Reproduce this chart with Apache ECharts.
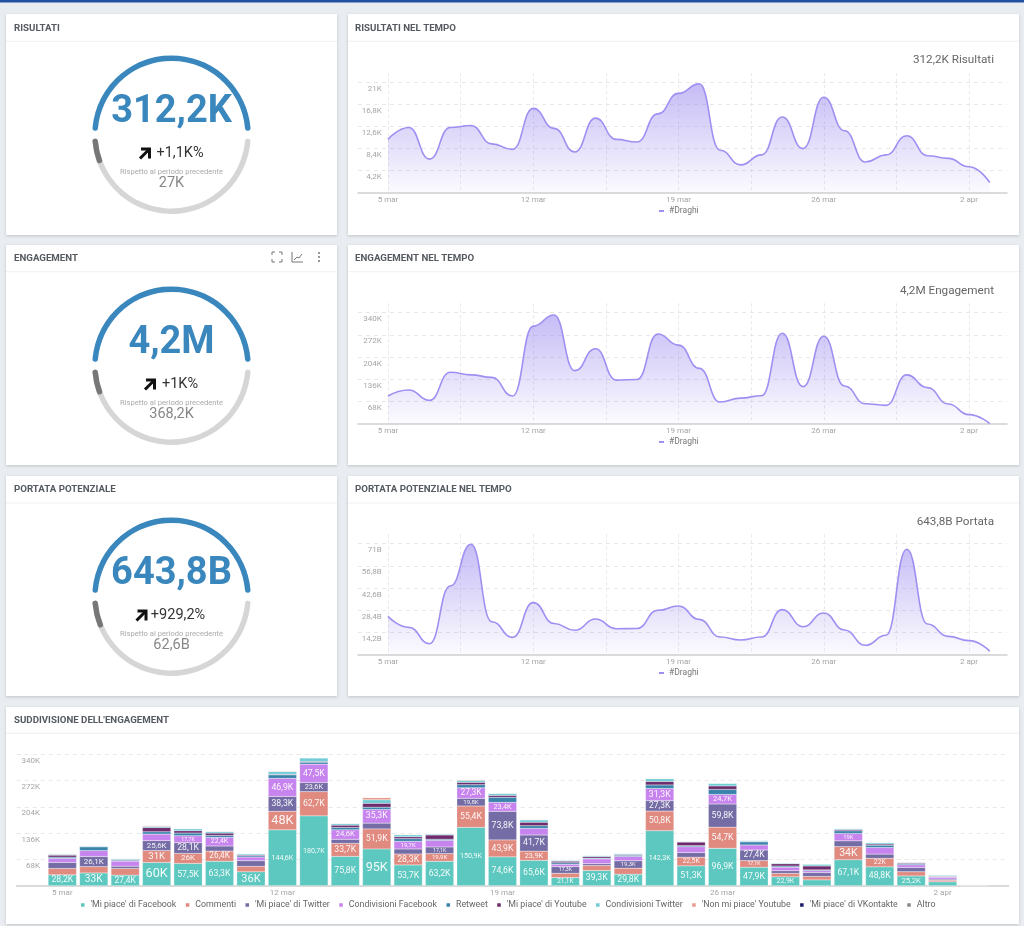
<!DOCTYPE html>
<html>
<head>
<meta charset="utf-8">
<title>Draghi dashboard</title>
<script src="https://cdn.jsdelivr.net/npm/echarts@6/dist/echarts.min.js"></script>
<style>
  html, body { margin: 0; padding: 0; background: #e9edf1; }
  #echart-box { width: 1024px; height: 926px; }
</style>
</head>
<body>
<div id="echart-box"></div>
<script>
// days on the x axis, 5 mar .. 3 apr
var days = ['5 mar','6 mar','7 mar','8 mar','9 mar','10 mar','11 mar','12 mar','13 mar','14 mar','15 mar','16 mar','17 mar','18 mar','19 mar','20 mar','21 mar','22 mar','23 mar','24 mar','25 mar','26 mar','27 mar','28 mar','29 mar','30 mar','31 mar','1 apr','2 apr','3 apr'];
var labelDays = [0, 7, 14, 21, 28];
var gridDays = [0, 3.5, 7, 10.5, 14, 17.5, 21, 24.5, 28];

// line charts
var risultati = [10.15,12.4,6.4,12.4,12.8,9.3,8.25,16.05,12.25,7.75,14.2,10.15,9.65,15,18.9,20.7,8.1,5.3,7.2,14.4,8.4,18.15,11.8,5.85,7.2,10.85,7.05,6.55,4.95,1.95];
var engagement = [85.5,104,72,158,150,142.5,85.5,299,333,163,230,134,136,275,241,170,67,79,86.5,277,114,268,116,62,57,150,111,61,28.5,1];
var portata = [24.5,17.5,7,43.9,70.6,21.1,11.1,33.3,20,15.6,22.8,16.6,16.8,28.4,31.1,22.6,11.3,9.4,11.3,28.8,17.9,26.7,15.8,6,12.4,67.4,19.6,11.7,9,2.3];

var risultatiTicks = [4.2, 8.4, 12.6, 16.8, 21];
var engagementTicks = [68, 136, 204, 272, 340];
var portataTicks = [14.2, 28.4, 42.6, 56.8, 71];

// stacked bars, values in K
var fbLikes = [28.2,33,27.4,60,57.5,63.3,36,144.6,180.7,75.8,95,53.7,63.2,150.9,74.6,65.6,21.1,39.3,29.8,142.3,51.3,96.9,47.9,22.9,15,67.1,48.8,25.2,10,0.6];
var commenti = [16.4,16.4,17,31,26,26.4,14,48,62.7,33.7,51.9,28.3,19.9,55.4,43.9,23.9,11,13,15.5,50.8,22.5,54.7,17.1,9,9,34,22,11,4,0.4];
var twLikes = [15.5,26.1,6,25.6,28.1,13,14.7,38.3,23.6,10.5,15,13,17.1,19.8,73.8,41.7,17.3,5,19.3,27.3,12,59.8,27.4,7,10,15,11,11,3,1.4];
var fbShares = [10.4,15.5,13,17,17.7,22.4,9.5,46.9,47.5,24.6,35.3,19.7,17,27.3,23.4,17,6,12,11,31.3,15,24.7,13,9,5,19,17,7,5,0.1];
var retweet = [3.5,9.5,2.5,6,7,5,3.5,9,5,6,6,7,3,8,13,7,4,2,3,9,3,13,8,3,2,7,6,3,1,0];
var ytLikes = [5,1,1.5,11,6,6,2,1.5,2,6,10,5,11,6,5,9,4,4,2,9,9,9,1,6,10,3,3,2,1.5,0];
var twShares = [2.5,1.5,2.5,3,5,4,3.5,7,9,4,9,5,2.5,5,5,6,2.5,3,3,7,2,7,3,2,5,3,4,2,3,0.1];
var ytDislikes = [1,0.4,0.5,2,0.7,1,0.3,1.5,0.5,1,6,1,1,2,1,1,0.5,0.3,0.3,1,0.3,0.5,0.3,0.3,0.3,0.3,0.3,0.3,0.3,0];
var vkLikes = [0.2,0.1,0.1,0.2,0.1,0.1,0.1,0.2,0.5,0.1,0.2,0.1,0.1,0.2,0.1,0.1,0.1,0.1,0.1,0.2,0.1,0.2,0.1,0.1,0.1,0.1,0.1,0.1,0.1,0];
var altro = [0.1,0.1,0.1,0.2,0.1,0.1,0.1,0.2,0.5,0.1,0.2,0.1,0.1,0.2,0.1,0.1,0.1,0.1,0.1,0.2,0.1,0.2,0.1,0.1,0.1,0.1,0.1,0.1,0.1,0];
var stackNames = ["'Mi piace' di Facebook", 'Commenti', "'Mi piace' di Twitter", 'Condivisioni Facebook', 'Retweet', "'Mi piace' di Youtube", 'Condivisioni Twitter', "'Non mi piace' Youtube", "'Mi piace' di VKontakte", 'Altro'];
var stackValues = [fbLikes, commenti, twLikes, fbShares, retweet, ytLikes, twShares, ytDislikes, vkLikes, altro];
var stackColors = ['#5cc8bf', '#e08a80', '#746ca5', '#c884ee', '#3a83ab', '#6e2c6d', '#6fcbd6', '#e69d8e', '#1c1c6e', '#888888'];
var stackTicks = [68, 136, 204, 272, 340];

// gauge panels: current, previous
var gaugeCurrent = [312.2, 4200, 643.8];
var gaugePrevious = [27, 368.2, 62.6];

var FONT = 'Roboto, sans-serif';
var BLUE = '#3a87bd';

function comma(v) {
  return String(Math.round(v * 10) / 10).replace('.', ',');
}

function card(x, y, w, h, headerY, title) {
  return [
    { type: 'rect', z: -10, shape: { x: x, y: y, width: w, height: h }, style: { fill: '#fff', shadowBlur: 3, shadowColor: 'rgba(0,0,0,0.18)', shadowOffsetY: 1 } },
    { type: 'line', z: -9, shape: { x1: x, y1: headerY, x2: x + w, y2: headerY }, style: { stroke: '#eef0f2', lineWidth: 1 } },
    { type: 'text', x: x + (x > 100 ? 7 : 8), y: headerY - 13, style: { text: title, font: '700 9.7px ' + FONT, fill: '#555a60', textVerticalAlign: 'middle' } }
  ];
}

function text(x, y, str, font, color, align) {
  return { type: 'text', x: x, y: y, style: { text: str, font: font + ' ' + FONT, fill: color, textAlign: align || 'center', textVerticalAlign: 'middle' } };
}

function arrow(x, y) {
  return [
    { type: 'polyline', shape: { points: [[x - 5, y + 5], [x + 4, y - 4]] }, style: { stroke: '#111', fill: 'none', lineWidth: 3 } },
    { type: 'polyline', shape: { points: [[x - 4, y - 4.5], [x + 4.5, y - 4.5], [x + 4.5, y + 5]] }, style: { stroke: '#111', fill: 'none', lineWidth: 3 } }
  ];
}

function gaugeTexts(dy, main, delta, deltaX, arrowX, prev) {
  return [
    text(171.5, 112.5 + dy, main, '700 38px', BLUE),
    text(deltaX, 153 + dy, delta, '400 14.5px', '#333'),
    text(171.5, 172 + dy, 'Rispetto al periodo precedente', '400 7.6px', '#aaaaaa'),
    text(171.5, 183.5 + dy, prev, '400 14.5px', '#888888')
  ].concat(arrow(arrowX, 153.5 + dy));
}

function gaugeSeries(dy, share) {
  var hidden = { show: false };
  var base = {
    type: 'gauge',
    center: [171.5, 134.7 + dy],
    radius: 79.3,
    min: 0,
    max: 1,
    silent: true,
    splitLine: hidden,
    axisTick: hidden,
    axisLabel: hidden,
    pointer: hidden,
    anchor: hidden,
    title: hidden,
    detail: hidden
  };
  return [
    Object.assign({}, base, {
      startAngle: 175,
      endAngle: 5,
      axisLine: { roundCap: true, lineStyle: { width: 5.5, color: [[1, BLUE]] } },
      data: [{ value: 1 }]
    }),
    Object.assign({}, base, {
      startAngle: 185,
      endAngle: 355,
      clockwise: false,
      axisLine: { roundCap: true, lineStyle: { width: 5.5, color: [[1, '#d6d6d6']] } },
      progress: { show: true, roundCap: true, width: 5.5, itemStyle: { color: '#777777' } },
      data: [{ value: share }]
    })
  ];
}

var DAY = 20.75;
var lineBoxes = [
  { top: 73, bottom: 192.8, max: 22.77, values: risultati, ticks: risultatiTicks, unit: 'K', legendY: 201.5 },
  { top: 303.3, bottom: 424, max: 368.6, values: engagement, ticks: engagementTicks, unit: 'K', legendY: 432.5 },
  { top: 534.3, bottom: 654.7, max: 77, values: portata, ticks: portataTicks, unit: 'B', legendY: 663.5 }
];

function pairs(values) {
  return values.map(function (v, i) { return [i, v]; });
}

function dayAxis(gridIndex, minDay, maxDay) {
  return {
    type: 'value',
    gridIndex: gridIndex,
    min: minDay,
    max: maxDay,
    axisLine: { onZero: false, lineStyle: { color: '#cfcfcf', width: 1.5 } },
    axisTick: { show: false, customValues: gridDays },
    axisLabel: {
      customValues: labelDays,
      color: '#a5a5a5',
      fontFamily: FONT,
      fontSize: 8,
      margin: 3,
      formatter: function (v) { return days[v]; }
    },
    splitLine: { show: true, lineStyle: { color: '#e8e8e8', type: [3, 3] } }
  };
}

function valueAxis(gridIndex, max, ticks, unit, margin) {
  return {
    type: 'value',
    gridIndex: gridIndex,
    min: 0,
    max: max,
    axisLine: { show: false },
    axisTick: { show: false, customValues: ticks },
    axisLabel: {
      customValues: ticks,
      color: '#a5a5a5',
      fontFamily: FONT,
      fontSize: 8,
      margin: margin,
      align: 'right',
      verticalAlign: 'top',
      padding: [2.5, 0, 0, 0],
      formatter: function (v) { return comma(v) + unit; }
    },
    splitLine: { show: true, lineStyle: { color: '#e8e8e8', type: [4, 4] } }
  };
}

function labelSize(str, v) {
  var em = 0;
  for (var i = 0; i < str.length; i++) {
    em += str[i] === ',' ? 0.22 : (str[i] === 'K' ? 0.62 : 0.56);
  }
  return Math.min(22 / em, v * 0.386 * 0.8);
}

function stackData(values) {
  return values.map(function (v) {
    var str = comma(v) + 'K';
    if (v < 17.05) {
      return { value: v, label: { show: false } };
    }
    return { value: v, label: { show: true, formatter: str, fontSize: labelSize(str, v) } };
  });
}

function init() {
  const element = document.getElementById('echart-box');
  const instance = echarts.init(element);

  var graphics = [
    { type: 'rect', z: -9, shape: { x: 0, y: 0, width: 1024, height: 2.5 }, style: { fill: '#2350a0' } }
  ];
  graphics = graphics.concat(
    card(6, 14, 331, 221, 41.3, 'RISULTATI'),
    card(348, 14, 671, 221, 41.3, 'RISULTATI NEL TEMPO'),
    card(6, 245, 331, 220, 271.7, 'ENGAGEMENT'),
    card(348, 245, 671, 220, 271.7, 'ENGAGEMENT NEL TEMPO'),
    card(6, 476, 331, 220, 503, 'PORTATA POTENZIALE'),
    card(348, 476, 671, 220, 503, 'PORTATA POTENZIALE NEL TEMPO'),
    card(6, 707, 1013, 217, 733.3, "SUDDIVISIONE DELL'ENGAGEMENT"),
    gaugeTexts(0, '312,2K', '+1,1K%', 180, 145, '27K'),
    gaugeTexts(231, '4,2M', '+1K%', 180, 150, '368,2K'),
    gaugeTexts(462, '643,8B', '+929,2%', 178, 141.5, '62,6B'),
    [
      text(994, 60.5, '312,2K Risultati', '400 11.7px', '#666', 'right'),
      text(994, 290.7, '4,2M Engagement', '400 11.7px', '#666', 'right'),
      text(994, 522.3, '643,8B Portata', '400 11.7px', '#666', 'right')
    ]
  );

  // toolbar icons on the engagement card
  var iconStyle = { stroke: '#777', fill: 'none', lineWidth: 1 };
  [[272, 252, 1, 1], [282, 252, -1, 1], [272, 262, 1, -1], [282, 262, -1, -1]].forEach(function (c) {
    graphics.push({ type: 'polyline', shape: { points: [[c[0] + 3 * c[2], c[1]], [c[0], c[1]], [c[0], c[1] + 3 * c[3]]] }, style: iconStyle });
  });
  graphics.push({ type: 'polyline', shape: { points: [[292, 252], [292, 262], [303, 262]] }, style: iconStyle });
  graphics.push({ type: 'polyline', shape: { points: [[294, 260], [297, 257], [299, 258], [302, 254]] }, style: iconStyle });
  [253, 257, 261].forEach(function (y) {
    graphics.push({ type: 'circle', shape: { cx: 319, cy: y, r: 1 }, style: { fill: '#777' } });
  });

  var grids = [];
  var xAxes = [];
  var yAxes = [];
  var legends = [];
  var series = [];

  lineBoxes.forEach(function (b, idx) {
    grids.push({ left: 358, width: 649, top: b.top, height: b.bottom - b.top });
    xAxes.push(dayAxis(idx, -30 / DAY, 619 / DAY));
    yAxes.push(valueAxis(idx, b.max, b.ticks, b.unit, -23.8));
    legends.push({
      data: ['#Draghi'],
      left: 654,
      top: b.legendY,
      icon: 'rect',
      itemWidth: 5,
      itemHeight: 2,
      selectedMode: false,
      textStyle: { color: '#777', fontFamily: FONT, fontSize: 8.5 }
    });
    series.push({
      name: '#Draghi',
      type: 'line',
      xAxisIndex: idx,
      yAxisIndex: idx,
      smooth: 0.5,
      smoothMonotone: 'x',
      symbol: 'none',
      silent: true,
      lineStyle: { color: '#a08ff2', width: 1.6 },
      itemStyle: { color: '#a08ff2' },
      areaStyle: {
        color: new echarts.graphic.LinearGradient(0, 0, 0, 1, [
          { offset: 0, color: 'rgba(142,122,236,0.72)' },
          { offset: 1, color: 'rgba(142,122,236,0.04)' }
        ])
      },
      data: pairs(b.values)
    });
  });

  // stacked bars card: one grid for the long gridlines and baseline,
  // a second, narrower one holds the category bands of the bars
  grids.push({ left: 16.7, width: 992, top: 754.3, height: 131.4 });
  var baseAxis = dayAxis(3, -1.45, 30.1);
  baseAxis.axisLabel.show = false;
  baseAxis.splitLine.show = false;
  xAxes.push(baseAxis);
  yAxes.push(valueAxis(3, 340, stackTicks, 'K', -23.3));

  grids.push({ left: 46.6, width: 943.2, top: 754.3, height: 131.4 });
  xAxes.push({
    type: 'category',
    gridIndex: 4,
    data: days,
    axisLine: { show: false },
    axisTick: { show: false },
    axisLabel: { interval: 6, color: '#a5a5a5', fontFamily: FONT, fontSize: 8, margin: 3 }
  });
  yAxes.push({ type: 'value', gridIndex: 4, min: 0, max: 340, show: false });

  legends.push({
    data: stackNames,
    left: 74,
    top: 895.5,
    icon: 'rect',
    itemWidth: 5.5,
    itemHeight: 5.5,
    itemGap: 7.5,
    selectedMode: false,
    textStyle: { color: '#666', fontFamily: FONT, fontSize: 8.8 }
  });
  stackNames.forEach(function (name, i) {
    series.push({
      name: name,
      type: 'bar',
      stack: 'engagement',
      xAxisIndex: 4,
      yAxisIndex: 4,
      barWidth: 28.3,
      silent: true,
      itemStyle: { color: stackColors[i], borderColor: '#fff', borderWidth: 0.25 },
      label: { position: 'inside', color: '#fff', fontFamily: FONT, opacity: 0.92 },
      data: stackData(stackValues[i])
    });
  });

  gaugeCurrent.forEach(function (cur, i) {
    series = series.concat(gaugeSeries(231 * i, gaugePrevious[i] / cur));
  });

  var option = {
    animation: false,
    backgroundColor: '#e9edf1',
    textStyle: { fontFamily: FONT },
    graphic: { elements: graphics },
    grid: grids,
    xAxis: xAxes,
    yAxis: yAxes,
    legend: legends,
    series: series
  };
  option && instance.setOption(option);

  window.onresize = function () {
    instance.resize();
  };
}

init();
</script>
</body>
</html>
